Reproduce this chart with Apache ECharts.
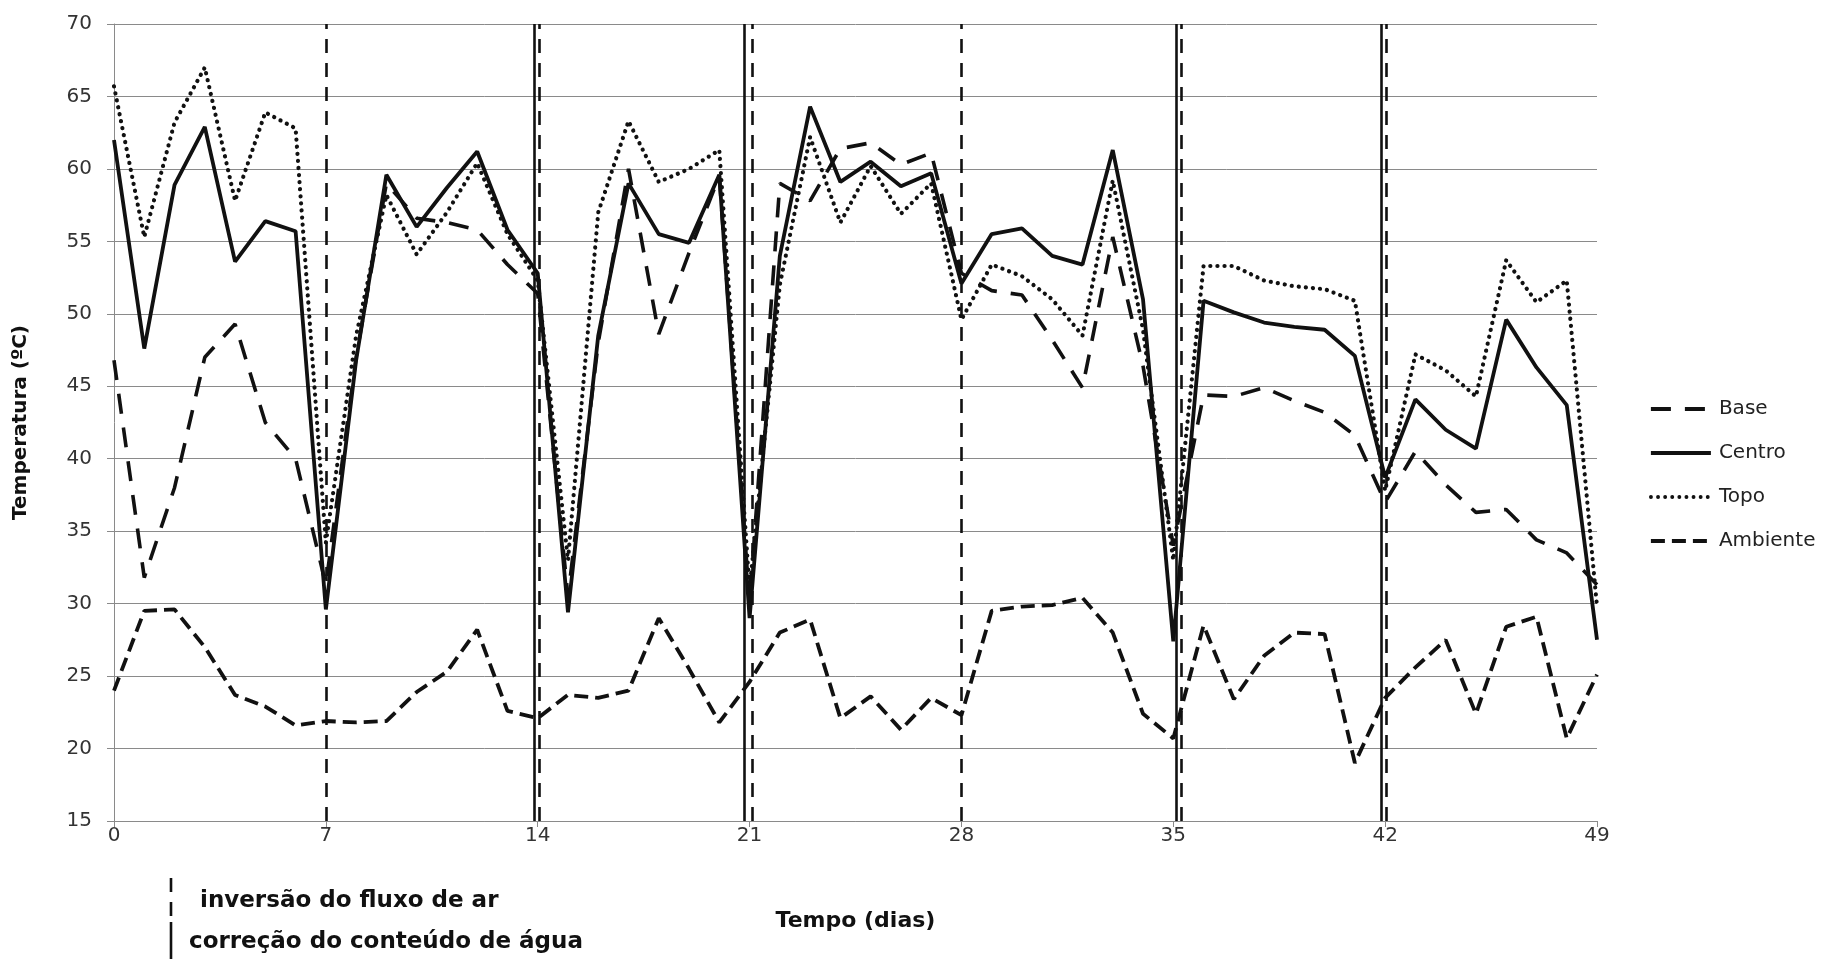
<!DOCTYPE html>
<html>
<head>
<meta charset="utf-8">
<title>Temperatura x Tempo</title>
<script src="https://cdn.jsdelivr.net/npm/echarts@6/dist/echarts.min.js"></script>
<style>
  html, body { margin: 0; padding: 0; background: #fff; }
  #chart { width: 1823px; height: 959px; }
</style>
</head>
<body>
<div id="chart"></div>
<script>
// tempo em dias (0..49)
var dias = [];
for (var d = 0; d <= 49; d++) dias.push(d);

// temperaturas (ºC)
var base = [46.8, 31.8, 38.0, 47.0, 49.3, 42.5, 40.0, 31.3, 47.0, 59.0,
            56.6, 56.3, 55.8, 53.4, 51.4, 30.5, 48.0, 60.0, 48.6, 54.2,
            59.5, 30.0, 59.0, 57.8, 61.4, 61.8, 60.3, 61.1, 52.8, 51.6,
            51.3, 48.2, 44.9, 55.3, 46.4, 34.0, 44.4, 44.3, 44.9, 44.0,
            43.2, 41.6, 37.0, 40.5, 38.2, 36.3, 36.5, 34.4, 33.5, 31.3];
var centro = [62.0, 47.6, 58.9, 62.9, 53.6, 56.4, 55.7, 29.6, 46.8, 59.6,
              56.0, 58.7, 61.2, 55.8, 52.8, 29.4, 48.5, 59.0, 55.5, 54.9,
              59.6, 29.0, 54.0, 64.3, 59.1, 60.5, 58.8, 59.7, 52.1, 55.5,
              55.9, 54.0, 53.4, 61.3, 51.0, 27.4, 50.9, 50.1, 49.4, 49.1,
              48.9, 47.1, 38.7, 44.1, 42.0, 40.7, 49.6, 46.3, 43.7, 27.5];
var topo = [65.7, 55.3, 63.2, 67.0, 57.8, 63.9, 62.8, 34.2, 48.5, 58.2,
            54.1, 57.0, 60.4, 55.5, 52.3, 33.0, 57.0, 63.3, 59.1, 60.0,
            61.3, 31.0, 52.0, 62.2, 56.3, 60.2, 56.9, 59.0, 49.6, 53.4,
            52.6, 51.0, 48.5, 59.2, 48.9, 33.0, 53.3, 53.3, 52.3, 51.9,
            51.7, 50.9, 37.8, 47.2, 46.1, 44.3, 53.7, 50.8, 52.3, 29.8];
var ambiente = [24.0, 29.5, 29.6, 27.0, 23.7, 22.9, 21.6, 21.9, 21.8, 21.9,
                23.9, 25.3, 28.2, 22.6, 22.1, 23.7, 23.5, 24.0, 29.0, 25.5,
                21.8, 24.6, 28.0, 28.9, 22.1, 23.6, 21.3, 23.5, 22.3, 29.5,
                29.8, 29.9, 30.4, 28.0, 22.4, 20.7, 28.5, 23.4, 26.4, 28.0,
                27.9, 19.0, 23.5, 25.6, 27.5, 22.4, 28.4, 29.1, 20.7, 25.1];

// eventos (dias)
var inversaoFluxo = [7, 14.05, 21.08, 28, 35.25, 42.05];
var correcaoAgua = [13.87, 20.83, 35.1, 41.88];

function pares(vals) {
  return dias.map(function (d, i) { return [d, vals[i]]; });
}

var preto = '#111';
var marcas = [];
inversaoFluxo.forEach(function (x) {
  marcas.push({ xAxis: x, lineStyle: { color: preto, width: 2.6, type: [14, 10] } });
});
correcaoAgua.forEach(function (x) {
  marcas.push({ xAxis: x, lineStyle: { color: preto, width: 2.6, type: 'solid' } });
});

var chart = echarts.init(document.getElementById('chart'));
chart.setOption({
  animation: false,
  backgroundColor: '#fff',
  grid: { left: 114, right: 226, top: 24, bottom: 138 },
  legend: {
    orient: 'vertical',
    left: 1644,
    top: 394,
    itemWidth: 60,
    itemHeight: 14,
    itemGap: 24,
    data: ['Base', 'Centro', 'Topo', 'Ambiente'],
    itemStyle: { opacity: 0 },
    lineStyle: { width: 3.8 },
    textStyle: { fontFamily: 'DejaVu Sans', fontSize: 20, color: '#222', padding: [0, 0, 0, 3] }
  },
  xAxis: {
    type: 'value',
    min: 0, max: 49, interval: 7,
    name: 'Tempo (dias)',
    nameLocation: 'middle',
    nameGap: 89,
    nameTextStyle: { fontFamily: 'DejaVu Sans', fontWeight: 'bold', fontSize: 22, color: '#111' },
    axisLine: { show: true, lineStyle: { color: '#8a8a8a', width: 1 } },
    axisTick: { show: true, length: 6, lineStyle: { color: '#8a8a8a' } },
    axisLabel: { margin: 5, fontFamily: 'DejaVu Sans', fontSize: 20, color: '#333' },
    splitLine: { show: false }
  },
  yAxis: {
    type: 'value',
    min: 15, max: 70, interval: 5,
    name: 'Temperatura (ºC)',
    nameLocation: 'middle',
    nameRotate: 90,
    nameGap: 83,
    nameTextStyle: { fontFamily: 'DejaVu Sans', fontWeight: 'bold', fontSize: 20, color: '#111' },
    axisLine: { show: true, lineStyle: { color: '#8a8a8a', width: 1 } },
    axisTick: { show: true, length: 7, lineStyle: { color: '#8a8a8a' } },
    axisLabel: { margin: 22, fontFamily: 'DejaVu Sans', fontSize: 20, color: '#333' },
    splitLine: { show: true, lineStyle: { color: '#8a8a8a', width: 1 } }
  },
  series: [
    {
      name: 'Base', type: 'line', symbol: 'none', data: pares(base),
      lineStyle: { color: preto, width: 3.6, type: [20, 14] },
      itemStyle: { color: preto }
    },
    {
      name: 'Centro', type: 'line', symbol: 'none', data: pares(centro),
      lineStyle: { color: preto, width: 3.8, type: 'solid' },
      itemStyle: { color: preto }
    },
    {
      name: 'Topo', type: 'line', symbol: 'none', data: pares(topo),
      lineStyle: { color: preto, width: 4.2, type: [0.1, 7], cap: 'round' },
      itemStyle: { color: preto }
    },
    {
      name: 'Ambiente', type: 'line', symbol: 'none', data: pares(ambiente),
      lineStyle: { color: preto, width: 3.8, type: [14, 7] },
      itemStyle: { color: preto },
      markLine: {
        silent: true,
        symbol: ['none', 'none'],
        label: { show: false },
        emphasis: { disabled: true },
        data: marcas
      }
    }
  ],
  graphic: [
    { type: 'line', shape: { x1: 171, y1: 878, x2: 171, y2: 918 },
      style: { stroke: preto, lineWidth: 2.6, lineDash: [14, 10] } },
    { type: 'line', shape: { x1: 171, y1: 922, x2: 171, y2: 959 },
      style: { stroke: preto, lineWidth: 2.6 } },
    { type: 'text', x: 200, y: 901,
      style: { text: 'inversão do fluxo de ar', font: 'bold 23px "DejaVu Sans"', fill: '#111', verticalAlign: 'middle' } },
    { type: 'text', x: 189, y: 942,
      style: { text: 'correção do conteúdo de água', font: 'bold 23px "DejaVu Sans"', fill: '#111', verticalAlign: 'middle' } }
  ]
});
</script>
</body>
</html>
